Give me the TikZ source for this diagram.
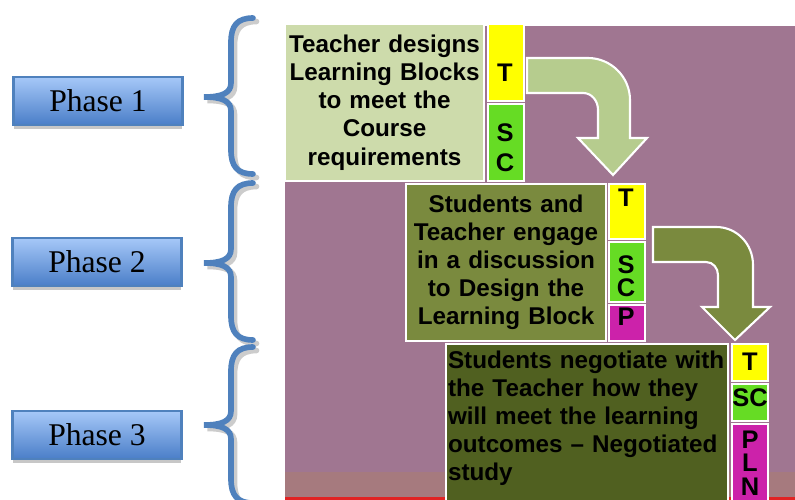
\documentclass[tikz,border=0pt]{standalone}
\usepackage{fontspec}
\setmainfont{Liberation Serif}
\newfontfamily\blockfont{Liberation Sans}
\usetikzlibrary{shadows}

\definecolor{bgpurple}{RGB}{160,118,145}
\definecolor{bgband}{RGB}{166,122,126}
\definecolor{bgred}{RGB}{225,35,35}
\definecolor{designgreen}{RGB}{205,219,171}
\definecolor{discussolive}{RGB}{122,138,62}
\definecolor{negotiateolive}{RGB}{80,96,32}
\definecolor{arrowlight}{RGB}{182,204,142}
\definecolor{cellyellow}{RGB}{255,255,0}
\definecolor{cellgreen}{RGB}{102,220,36}
\definecolor{cellmagenta}{RGB}{204,34,170}
\definecolor{phaseblue}{RGB}{79,129,189}
\definecolor{phasetop}{RGB}{166,200,248}
\definecolor{phasebottom}{RGB}{74,126,200}

\tikzset{
  phasebox/.style={draw=phaseblue, line width=1.2pt, top color=phasetop, bottom color=phasebottom,
    minimum width=3.38cm, minimum height=0.96cm, font=\fontsize{18}{20}\selectfont,
    drop shadow={shadow xshift=0pt, shadow yshift=-2pt, fill=black!22, opacity=1}},
  block/.style={draw=white, line width=1.2pt, anchor=north west, inner sep=1pt,
    font=\blockfont\bfseries\fontsize{13.8}{16}\selectfont},
  cell/.style={draw=white, line width=1.2pt, anchor=north west, minimum width=0.72cm, inner sep=0pt},
  letter/.style={font=\blockfont\bfseries\fontsize{14.5}{14}\selectfont, inner sep=0pt},
  bracket/.style={line width=3.2pt, line cap=round},
  bigarrow/.style={draw=white, line width=1.2pt, line join=miter},
}

\begin{document}
\begin{tikzpicture}[x=0.02cm, y=-0.02cm]
  \useasboundingbox (0,0) rectangle (795,500);

  % backdrop behind the blocks
  \fill[bgpurple] (285,26) rectangle (795,500);
  \fill[bgband] (285,472) rectangle (795,497);
  \fill[bgred] (285,497) rectangle (795,500);

  % phases
  \node[phasebox] (phase1) at (98,101) {Phase 1};
  \node[phasebox] (phase2) at (97,262) {Phase 2};
  \node[phasebox] (phase3) at (97,435) {Phase 3};

  % curly brackets: top / tip / bottom
  \foreach \btop/\btip/\bbot in {18/97/174, 183/263/340, 347/425/503} {
    \foreach \shade/\dx in {black!20/2pt, phaseblue/0pt} {
      \draw[bracket, draw=\shade, xshift=\dx, yshift=-\dx]
        (253,\btop) .. controls (237,\btop) and (231,\btop+8) .. (231,\btop+24)
        -- (231,\btip-14) .. controls (231,\btip-4) and (222,\btip) .. (204,\btip)
        .. controls (222,\btip) and (231,\btip+4) .. (231,\btip+14)
        -- (231,\bbot-24) .. controls (231,\bbot-8) and (237,\bbot) .. (253,\bbot);
    }
  }

  % block arrows
  \draw[bigarrow, fill=arrowlight] (527,58) -- (588,58) .. controls (611,58) and (630,77) .. (630,100)
    -- (630,138) -- (647,138) -- (613,175) -- (578,138) -- (598,138) -- (598,110)
    .. controls (598,101) and (592,93) .. (583,93) -- (527,93) -- cycle;
  \draw[bigarrow, fill=discussolive] (653,227) -- (716,227) .. controls (737,227) and (753,244) .. (753,265)
    -- (753,307) -- (770,307) -- (735,340) -- (702,307) -- (718,307) -- (718,275)
    .. controls (718,268) and (713,262) .. (706,262) -- (653,262) -- cycle;

  % phase 1 block
  \node[block, fill=designgreen, minimum width=3.98cm, minimum height=3.14cm, text width=3.9cm, align=center]
    (design) at (284,23) {Teacher designs\\Learning Blocks\\to meet the\\Course\\requirements};
  \node[cell, fill=cellyellow, minimum height=1.54cm] (designT) at (487,23) {};
  \node[cell, fill=cellgreen, minimum height=1.54cm] (designSC) at (487,103) {};
  \node[letter] (lT1) at (505,73) {T};
  \node[letter] (lS1) at (505,133) {S};
  \node[letter] (lC1) at (505,163) {C};

  % phase 2 block
  \node[block, fill=discussolive, minimum width=4.0cm, minimum height=3.14cm, text width=3.92cm, align=center]
    (discuss) at (405,183) {Students and\\Teacher engage\\in a discussion\\to Design the\\Learning Block};
  \node[cell, fill=cellyellow, minimum height=1.1cm] (discussT) at (608,183) {};
  \node[cell, fill=cellgreen, minimum height=1.2cm] (discussSC) at (608,241) {};
  \node[cell, fill=cellmagenta, minimum height=0.72cm] (discussP) at (608,304) {};
  \node[letter] (lT2) at (626,198) {T};
  \node[letter] (lS2) at (626,265) {S};
  \node[letter] (lC2) at (626,288) {C};
  \node[letter] (lP2) at (626,317) {P};

  % phase 3 block
  \node[block, fill=negotiateolive, minimum width=5.64cm, minimum height=3.14cm, text width=5.56cm, align=left,
    text depth=72pt]
    (negotiate) at (445,343) {Students negotiate with\\the Teacher how they\\will meet the learning\\outcomes – Negotiated\\study};
  \node[cell, fill=cellyellow, minimum height=0.74cm] (negotiateT) at (731,343) {};
  \node[cell, fill=cellgreen, minimum height=0.74cm] (negotiateSC) at (731,383) {};
  \node[cell, fill=cellmagenta, minimum height=1.7cm] (negotiatePLN) at (731,423) {};
  \node[letter] (lT3) at (750,362) {T};
  \node[letter] (lSC3) at (750,398) {SC};
  \node[letter] (lP3) at (750,440) {P};
  \node[letter] (lL3) at (750,463) {L};
  \node[letter] (lN3) at (750,487) {N};
\end{tikzpicture}
\end{document}
